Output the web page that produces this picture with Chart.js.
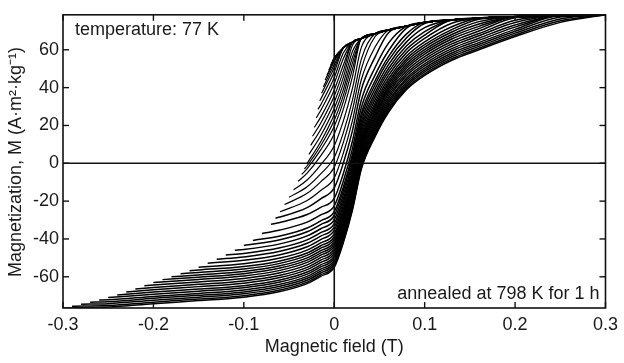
<!DOCTYPE html>
<html>
<head>
<meta charset="utf-8">
<script src="https://cdn.jsdelivr.net/npm/chart.js@4.4.1/dist/chart.umd.min.js"></script>
<style>
  html, body { margin: 0; padding: 0; background: #fff; }
  #chart { display: block; }
</style>
</head>
<body>
<canvas id="chart" width="624" height="363"></canvas>
<script>
// field values (T) where every reversal curve is sampled
var fieldGrid = [-0.25, -0.2, -0.15, -0.1, -0.06, -0.03, -0.015, 0, 0.01, 0.02, 0.03, 0.045, 0.06, 0.08, 0.1, 0.13, 0.16, 0.2, 0.25, 0.3];

// upper branch that the curves run into once they close
var upperField = [0.01, 0.02, 0.03, 0.045, 0.06, 0.08, 0.1, 0.13, 0.16, 0.2, 0.25, 0.3];
var upperM = [61, 64, 66, 68.5, 70.5, 72.5, 74.5, 75.8, 76.7, 77.5, 78.1, 78.5];

// reversal field and magnetization at the reversal point
var reversalField = [-0.3, -0.29, -0.28, -0.27, -0.26, -0.25, -0.24, -0.23, -0.22, -0.21,
    -0.2, -0.19, -0.18, -0.17, -0.16, -0.15, -0.14, -0.13, -0.12, -0.11,
    -0.1, -0.09, -0.08, -0.07, -0.065, -0.06, -0.055, -0.05, -0.045, -0.04,
    -0.036, -0.033, -0.03, -0.028, -0.026, -0.024, -0.022, -0.02, -0.018, -0.016,
    -0.014, -0.012, -0.01, -0.008, -0.006, -0.004, -0.002, 0];
var reversalM = [-76.5, -75.6, -74.5, -73.4, -72.3, -71.0, -69.6, -68.0, -66.4, -64.7,
    -63.0, -61.5, -60.0, -58.4, -56.8, -54.9, -52.8, -50.7, -48.5, -46.0,
    -43.4, -40.8, -37.1, -32.3, -29.0, -25.6, -21.8, -18.0, -14.0, -9.5,
    -5.9, -3.0, 0, 4.7, 9.5, 14.3, 19.0, 24.0, 28.5, 33.0,
    37.0, 40.5, 44.0, 46.5, 49.3, 51.8, 54.0, 56];

// M on fieldGrid, starting at the first grid field above the reversal field
var forcM = [
    [-76, -74.2, -72.6, -70.8, -67.8, -63.6, -59.8, -55, -42, -25, -3, 14, 27, 39, 46.5, 54.5, 60, 67, 74.5],
    [-75.2, -73.4, -71.8, -70, -67, -62.8, -59, -54.2, -41.2, -24.2, -2.2, 14.8, 27.8, 39.8, 47.3, 55.3, 60.8, 67.8, 75.3],
    [-74.2, -72.4, -70.8, -69, -66, -61.8, -58, -53.2, -40.2, -23.2, -1.2, 15.8, 28.8, 40.8, 48.3, 56.3, 61.8, 68.8, 76.3],
    [-73.2, -71.4, -69.8, -68, -65, -60.8, -57, -52.2, -39.2, -22.2, -0.2, 16.8, 29.8, 41.8, 49.3, 57.3, 62.8, 69.8, 77.3],
    [-72.2, -70.4, -68.8, -67, -64, -59.8, -56, -51.2, -38.2, -21.2, 0.8, 17.8, 30.8, 42.8, 50.3, 58.3, 63.8, 70.8],
    [-69.2, -67.6, -65.8, -62.8, -58.6, -54.8, -50, -37, -20, 2, 19, 32, 44, 51.5, 59.5, 65, 72],
    [-68.1, -66.5, -64.7, -61.7, -57.5, -53.7, -48.9, -35.9, -18.9, 3.1, 20.1, 33.1, 45.1, 52.6, 60.6, 66.1, 73.1],
    [-66.8, -65.2, -63.4, -60.4, -56.2, -52.4, -47.6, -34.6, -17.6, 4.4, 21.4, 34.4, 46.4, 53.9, 61.9, 67.4, 74.4],
    [-65.6, -64, -62.2, -59.2, -55, -51.2, -46.4, -33.4, -16.4, 5.6, 22.6, 35.6, 47.6, 55.1, 63.1, 68.6, 75.6],
    [-64.3, -62.7, -60.9, -57.9, -53.7, -49.9, -45.1, -32.1, -15.1, 6.9, 23.9, 36.9, 48.9, 56.4, 64.4, 69.9, 76.9],
    [-61.4, -59.6, -56.6, -52.4, -48.6, -43.8, -30.8, -13.8, 8.2, 25.2, 38.2, 50.2, 57.7, 65.7, 71.2],
    [-60.2, -58.4, -55.4, -51.2, -47.4, -42.6, -29.6, -12.6, 9.4, 26.4, 39.4, 51.4, 58.9, 66.9, 72.4],
    [-59, -57.2, -54.2, -50, -46.2, -41.4, -28.4, -11.4, 10.6, 27.6, 40.6, 52.6, 60.1, 68.1, 73.6],
    [-57.7, -55.9, -52.9, -48.7, -44.9, -40.1, -27.1, -10.1, 11.9, 28.9, 41.9, 53.9, 61.4, 69.4, 74.9],
    [-56.4, -54.6, -51.6, -47.4, -43.6, -38.8, -25.8, -8.8, 13.2, 30.2, 43.2, 55.2, 62.7, 70.7, 76.2],
    [-53.1, -50.1, -45.9, -42.1, -37.3, -24.3, -7.3, 14.7, 31.7, 44.7, 56.7, 64.2, 72.2],
    [-51.3, -48.3, -44.1, -40.3, -35.5, -22.5, -5.5, 16.5, 33.5, 46.5, 58.5, 66, 74],
    [-49.5, -46.5, -42.3, -38.5, -33.7, -20.7, -3.7, 18.3, 35.3, 48.3, 60.3, 67.8, 75.8],
    [-47.7, -44.7, -40.5, -36.7, -31.9, -18.9, -1.9, 20.1, 37.1, 50.1, 62.1, 69.6],
    [-45.6, -42.6, -38.4, -34.6, -29.8, -16.8, 0.2, 22.2, 39.2, 52.2, 64.2, 71.7],
    [-40.4, -36.2, -32.4, -27.6, -14.6, 2.4, 24.4, 41.4, 54.4, 66.4, 73.9],
    [-38.4, -34.2, -30.4, -25.6, -12.6, 4.4, 26.4, 43.4, 56.4, 68.4],
    [-35.3, -31.1, -27.3, -22.5, -9.5, 7.5, 29.5, 46.5, 59.5, 71.5],
    [-31.3, -27.1, -23.3, -18.5, -5.5, 11.5, 33.5, 50.5, 63.5],
    [-28.4, -23.4, -18.8, -13, 0, 17, 39, 56, 69],
    [-19.7, -14.4, -7.7, 5.3, 22.3, 44.3, 61.3],
    [-15.9, -9.8, -2.1, 10.9, 27.9, 49.9, 66.9],
    [-12.4, -5.6, 3.1, 16.1, 33.1, 55.1],
    [-8.8, -0.8, 9.3, 22.3, 39.3, 61.3],
    [-5.2, 3.9, 15.5, 28.5, 45.5],
    [-2.8, 7.1, 19.6, 32.6, 49.6],
    [-1.3, 9.3, 22.8, 35.8, 52.8],
    [11.4, 25.8, 38.8, 55.8],
    [14.6, 29, 42, 59],
    [17.9, 32.3, 45.3, 62.3],
    [21.2, 35.6, 48.6],
    [24.4, 38.8, 51.8],
    [27.9, 42.3, 55.3],
    [30.9, 45.3, 58.3],
    [33.9, 48.3],
    [50.5],
    [52.2],
    [53.9],
    [54.6],
    [55.2],
    [55.6],
    [55.8],
    []
];

var xTicks = [-0.3, -0.2, -0.1, 0, 0.1, 0.2, 0.3];
var xTickLabels = ['-0.3', '-0.2', '-0.1', '0', '0.1', '0.2', '0.3'];
var yTicks = [-60, -40, -20, 0, 20, 40, 60];
var yTickLabels = ['-60', '-40', '-20', '0', '20', '40', '60'];

var FONT = 'Liberation Sans, Arial, Helvetica, sans-serif';
var INK = '#1a1a1a';

function forc_points(i) {
    var hr = reversalField[i];
    var pts = [{x: hr, y: reversalM[i]}];
    var first = fieldGrid.findIndex(function (h) { return h > hr + 1e-9; });
    var row = forcM[i];
    for (var j = 0; j < row.length; j++) {
        pts.push({x: fieldGrid[first + j], y: row[j]});
    }
    var lastX = pts[pts.length - 1].x;
    for (var k = 0; k < upperField.length; k++) {
        if (upperField[k] > lastX + 1e-9) pts.push({x: upperField[k], y: upperM[k]});
    }
    return pts;
}

var datasets = reversalField.map(function (hr, i) {
    return {
        data: forc_points(i),
        borderColor: '#000',
        borderWidth: hr < -0.06 ? 1.5 : 1.2,
        pointRadius: 0,
        fill: false,
        cubicInterpolationMode: 'monotone'
    };
});

function line(ctx, x1, y1, x2, y2) {
    ctx.beginPath();
    ctx.moveTo(x1, y1);
    ctx.lineTo(x2, y2);
    ctx.stroke();
}

var frame = {
    id: 'frame',
    afterDatasetsDraw: function (chart) {
        var ctx = chart.ctx, a = chart.chartArea;
        var xs = chart.scales.x, ys = chart.scales.y;
        ctx.save();
        ctx.strokeStyle = '#111';
        ctx.lineWidth = 1.6;
        var x0 = xs.getPixelForValue(0), y0 = ys.getPixelForValue(0);
        line(ctx, x0, a.top, x0, a.bottom);
        line(ctx, a.left, y0, a.right, y0);
        ctx.strokeRect(a.left, a.top, a.right - a.left, a.bottom - a.top);
        ctx.lineWidth = 1.4;
        xTicks.forEach(function (v) {
            var px = xs.getPixelForValue(v);
            line(ctx, px, a.bottom, px, a.bottom - 6);
            line(ctx, px, a.top, px, a.top + 6);
        });
        yTicks.forEach(function (v) {
            var py = ys.getPixelForValue(v);
            line(ctx, a.left, py, a.left + 6, py);
            line(ctx, a.right, py, a.right - 6, py);
        });

        ctx.fillStyle = INK;
        ctx.font = '18px ' + FONT;
        ctx.textBaseline = 'alphabetic';
        ctx.textAlign = 'left';
        ctx.fillText('temperature: 77 K', a.left + 12, 35);
        ctx.textAlign = 'right';
        ctx.fillText('annealed at 798 K for 1 h', a.right - 6, 299);
        ctx.textAlign = 'center';
        ctx.fillText('Magnetic field (T)', (a.left + a.right) / 2, 352);

        ctx.translate(21, 162);
        ctx.rotate(-Math.PI / 2);
        ctx.fillText('Magnetization, M (A\u00b7m\u00b2\u00b7kg\u207b\u00b9)', 0, 0);
        ctx.restore();
    }
};

new Chart(document.getElementById('chart'), {
    type: 'line',
    data: { datasets: datasets },
    options: {
        responsive: false,
        animation: false,
        devicePixelRatio: 1,
        layout: { padding: { top: 8, right: 12, left: 0, bottom: 0 } },
        plugins: { legend: { display: false }, tooltip: { enabled: false } },
        scales: {
            x: {
                type: 'linear',
                min: -0.3,
                max: 0.3,
                grid: { display: false, drawTicks: false },
                border: { display: false },
                afterBuildTicks: function (s) { s.ticks = xTicks.map(function (v) { return {value: v}; }); },
                afterFit: function (s) { s.height = 55; },
                ticks: {
                    autoSkip: false,
                    maxRotation: 0,
                    padding: 6,
                    color: INK,
                    font: { family: FONT, size: 18 },
                    callback: function (v) { return xTickLabels[xTicks.indexOf(v)]; }
                }
            },
            y: {
                type: 'linear',
                min: -76.5,
                max: 78.5,
                grid: { display: false, drawTicks: false },
                border: { display: false },
                afterBuildTicks: function (s) { s.ticks = yTicks.map(function (v) { return {value: v}; }); },
                afterFit: function (s) { s.width = 63; },
                ticks: {
                    autoSkip: false,
                    padding: 4,
                    color: INK,
                    font: { family: FONT, size: 18 },
                    callback: function (v) { return yTickLabels[yTicks.indexOf(v)]; }
                }
            }
        }
    },
    plugins: [frame]
});
</script>
</body>
</html>
